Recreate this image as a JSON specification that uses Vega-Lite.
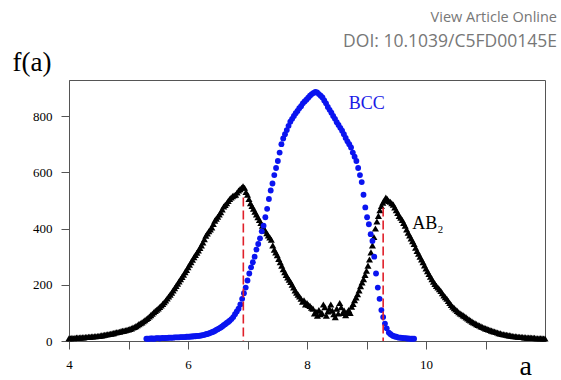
{
"$schema":"https://vega.github.io/schema/vega-lite/v6.json",
"width":476,"height":261,
"autosize":"none",
"padding":{"left":69,"top":80,"right":16,"bottom":39},
"background":"white",
"config":{"view":{"stroke":"#555","strokeWidth":1},"font":"Liberation Serif, serif"},
"title":{"text":"View Article Online","subtitle":"DOI: 10.1039/C5FD00145E","anchor":"end","frame":"group","dx":12,"offset":-3,"font":"Open Sans","fontSize":14.5,"fontWeight":"normal","color":"#777","subtitleFont":"Open Sans","subtitleFontSize":17.5,"subtitleColor":"#777","subtitlePadding":7},
"layer":[
{"data":{"values":[
{"a":4.000,"f":10},{"a":4.025,"f":10},{"a":4.050,"f":11},{"a":4.075,"f":10},{"a":4.100,"f":11},{"a":4.125,"f":12},{"a":4.150,"f":12},{"a":4.175,"f":12},{"a":4.200,"f":13},{"a":4.225,"f":13},{"a":4.250,"f":13},{"a":4.275,"f":14},{"a":4.300,"f":14},{"a":4.325,"f":15},{"a":4.350,"f":15},{"a":4.375,"f":16},{"a":4.400,"f":16},{"a":4.425,"f":17},{"a":4.450,"f":17},{"a":4.475,"f":18},{"a":4.500,"f":18},{"a":4.525,"f":19},{"a":4.550,"f":20},{"a":4.575,"f":21},{"a":4.600,"f":22},{"a":4.625,"f":23},{"a":4.650,"f":24},{"a":4.675,"f":25},{"a":4.700,"f":26},{"a":4.725,"f":27},{"a":4.750,"f":28},{"a":4.775,"f":30},{"a":4.800,"f":31},{"a":4.825,"f":32},{"a":4.850,"f":33},{"a":4.875,"f":35},{"a":4.900,"f":36},{"a":4.925,"f":37},{"a":4.950,"f":38},{"a":4.975,"f":40},{"a":5.000,"f":41},{"a":5.025,"f":43},{"a":5.050,"f":45},{"a":5.075,"f":48},{"a":5.100,"f":50},{"a":5.125,"f":53},{"a":5.150,"f":56},{"a":5.175,"f":60},{"a":5.200,"f":63},{"a":5.225,"f":66},{"a":5.250,"f":70},{"a":5.275,"f":74},{"a":5.300,"f":78},{"a":5.325,"f":82},{"a":5.350,"f":87},{"a":5.375,"f":92},{"a":5.400,"f":97},{"a":5.425,"f":102},{"a":5.450,"f":107},{"a":5.475,"f":111},{"a":5.500,"f":116},{"a":5.525,"f":121},{"a":5.550,"f":126},{"a":5.575,"f":132},{"a":5.600,"f":138},{"a":5.625,"f":144},{"a":5.650,"f":151},{"a":5.675,"f":158},{"a":5.700,"f":165},{"a":5.725,"f":172},{"a":5.750,"f":180},{"a":5.775,"f":188},{"a":5.800,"f":196},{"a":5.825,"f":204},{"a":5.850,"f":212},{"a":5.875,"f":220},{"a":5.900,"f":228},{"a":5.925,"f":236},{"a":5.950,"f":245},{"a":5.975,"f":253},{"a":6.000,"f":262},{"a":6.025,"f":271},{"a":6.050,"f":280},{"a":6.075,"f":289},{"a":6.100,"f":298},{"a":6.125,"f":306},{"a":6.150,"f":314},{"a":6.175,"f":322},{"a":6.200,"f":331},{"a":6.225,"f":340},{"a":6.250,"f":350},{"a":6.275,"f":362},{"a":6.300,"f":374},{"a":6.325,"f":382},{"a":6.350,"f":390},{"a":6.375,"f":397},{"a":6.400,"f":404},{"a":6.425,"f":416},{"a":6.450,"f":428},{"a":6.475,"f":435},{"a":6.500,"f":442},{"a":6.525,"f":450},{"a":6.550,"f":458},{"a":6.575,"f":468},{"a":6.600,"f":478},{"a":6.625,"f":484},{"a":6.650,"f":490},{"a":6.675,"f":498},{"a":6.700,"f":505},{"a":6.725,"f":510},{"a":6.750,"f":515},{"a":6.775,"f":518},{"a":6.800,"f":520},{"a":6.825,"f":528},{"a":6.850,"f":535},{"a":6.875,"f":540},{"a":6.900,"f":545},{"a":6.925,"f":550},{"a":6.950,"f":545},{"a":6.975,"f":530},
{"a":7.000,"f":520},{"a":7.025,"f":505},{"a":7.050,"f":490},{"a":7.075,"f":480},{"a":7.100,"f":470},{"a":7.125,"f":460},{"a":7.150,"f":450},{"a":7.175,"f":440},{"a":7.200,"f":430},{"a":7.225,"f":420},{"a":7.250,"f":410},{"a":7.275,"f":400},{"a":7.300,"f":392},{"a":7.325,"f":383},{"a":7.350,"f":375},{"a":7.375,"f":368},{"a":7.400,"f":360},{"a":7.425,"f":340},{"a":7.450,"f":325},{"a":7.475,"f":315},{"a":7.500,"f":305},{"a":7.525,"f":292},{"a":7.550,"f":280},{"a":7.575,"f":268},{"a":7.600,"f":255},{"a":7.625,"f":245},{"a":7.650,"f":235},{"a":7.675,"f":226},{"a":7.700,"f":218},{"a":7.725,"f":210},{"a":7.750,"f":200},{"a":7.775,"f":190},{"a":7.800,"f":180},{"a":7.825,"f":172},{"a":7.850,"f":165},{"a":7.875,"f":158},{"a":7.900,"f":150},{"a":7.925,"f":140},{"a":7.950,"f":145},{"a":7.975,"f":130},{"a":8.000,"f":135},{"a":8.025,"f":128},{"a":8.050,"f":125},{"a":8.075,"f":118},{"a":8.100,"f":115},{"a":8.125,"f":98},{"a":8.150,"f":105},{"a":8.175,"f":90},{"a":8.200,"f":110},{"a":8.225,"f":95},{"a":8.250,"f":100},{"a":8.275,"f":130},{"a":8.300,"f":120},{"a":8.325,"f":90},{"a":8.350,"f":105},{"a":8.375,"f":115},{"a":8.400,"f":130},{"a":8.425,"f":108},{"a":8.450,"f":95},{"a":8.475,"f":85},{"a":8.500,"f":115},{"a":8.525,"f":98},{"a":8.550,"f":135},{"a":8.575,"f":120},{"a":8.600,"f":100},{"a":8.625,"f":108},{"a":8.650,"f":92},{"a":8.675,"f":102},{"a":8.700,"f":110},{"a":8.725,"f":100},{"a":8.750,"f":122},{"a":8.775,"f":132},{"a":8.800,"f":145},{"a":8.825,"f":155},{"a":8.850,"f":166},{"a":8.875,"f":180},{"a":8.900,"f":195},{"a":8.925,"f":208},{"a":8.950,"f":220},{"a":8.975,"f":235},{"a":9.000,"f":250},{"a":9.025,"f":268},{"a":9.050,"f":290},{"a":9.075,"f":315},{"a":9.100,"f":340},{"a":9.125,"f":370},{"a":9.150,"f":400},{"a":9.175,"f":425},{"a":9.200,"f":445},{"a":9.225,"f":465},{"a":9.250,"f":480},{"a":9.275,"f":492},{"a":9.300,"f":500},{"a":9.325,"f":510},{"a":9.350,"f":505},{"a":9.375,"f":498},
{"a":9.400,"f":495},{"a":9.425,"f":490},{"a":9.450,"f":485},{"a":9.475,"f":475},{"a":9.500,"f":465},{"a":9.525,"f":455},{"a":9.550,"f":445},{"a":9.575,"f":438},{"a":9.600,"f":430},{"a":9.625,"f":420},{"a":9.650,"f":410},{"a":9.675,"f":397},{"a":9.700,"f":385},{"a":9.725,"f":375},{"a":9.750,"f":365},{"a":9.775,"f":355},{"a":9.800,"f":345},{"a":9.825,"f":332},{"a":9.850,"f":320},{"a":9.875,"f":310},{"a":9.900,"f":300},{"a":9.925,"f":290},{"a":9.950,"f":280},{"a":9.975,"f":269},{"a":10.000,"f":258},{"a":10.025,"f":248},{"a":10.050,"f":238},{"a":10.075,"f":229},{"a":10.100,"f":220},{"a":10.125,"f":211},{"a":10.150,"f":203},{"a":10.175,"f":196},{"a":10.200,"f":190},{"a":10.225,"f":184},{"a":10.250,"f":178},{"a":10.275,"f":170},{"a":10.300,"f":162},{"a":10.325,"f":156},{"a":10.350,"f":150},{"a":10.375,"f":142},{"a":10.400,"f":135},{"a":10.425,"f":128},{"a":10.450,"f":122},{"a":10.475,"f":117},{"a":10.500,"f":112},{"a":10.525,"f":107},{"a":10.550,"f":102},{"a":10.575,"f":98},{"a":10.600,"f":95},{"a":10.625,"f":91},{"a":10.650,"f":88},{"a":10.675,"f":84},{"a":10.700,"f":80},{"a":10.725,"f":76},{"a":10.750,"f":73},{"a":10.775,"f":69},{"a":10.800,"f":66},{"a":10.825,"f":63},{"a":10.850,"f":60},{"a":10.875,"f":57},{"a":10.900,"f":55},{"a":10.925,"f":52},{"a":10.950,"f":50},{"a":10.975,"f":47},{"a":11.000,"f":45},{"a":11.025,"f":43},{"a":11.050,"f":41},{"a":11.075,"f":39},{"a":11.100,"f":37},{"a":11.125,"f":35},{"a":11.150,"f":34},{"a":11.175,"f":32},{"a":11.200,"f":30},{"a":11.225,"f":28},{"a":11.250,"f":27},{"a":11.275,"f":25},{"a":11.300,"f":24},{"a":11.325,"f":23},{"a":11.350,"f":22},{"a":11.375,"f":21},{"a":11.400,"f":20},{"a":11.425,"f":19},{"a":11.450,"f":18},{"a":11.475,"f":17},{"a":11.500,"f":17},{"a":11.525,"f":16},{"a":11.550,"f":15},{"a":11.575,"f":15},{"a":11.600,"f":14},{"a":11.625,"f":14},{"a":11.650,"f":13},{"a":11.675,"f":13},{"a":11.700,"f":12},{"a":11.725,"f":12},{"a":11.750,"f":12},{"a":11.775,"f":11},{"a":11.800,"f":11},{"a":11.825,"f":11},{"a":11.850,"f":10},{"a":11.875,"f":10},{"a":11.900,"f":10},{"a":11.925,"f":10},{"a":11.950,"f":10},{"a":11.975,"f":9},{"a":12.000,"f":9}
]},
"mark":{"type":"point","shape":"triangle-up","filled":true,"size":50,"color":"black","opacity":1},
"encoding":{
"x":{"field":"a","type":"quantitative","scale":{"domain":[4,12],"nice":false,"zero":false},
"axis":{"values":[4,5,6,7,8,9,10,11],"format":"d","labelExpr":"datum.value % 2 == 0 ? datum.label : ''","grid":false,"tickSize":8,"labelPadding":9,"labelFont":"Liberation Serif, serif","labelFontSize":13,"labelColor":"black","domainColor":"#555","tickColor":"#555","title":"a","titleFont":"Liberation Serif, serif","titleFontSize":28,"titleFontWeight":"normal","titleColor":"black","titleAlign":"left","titleBaseline":"alphabetic","titleX":450,"titleY":33,"labelFlush":false}},
"y":{"field":"f","type":"quantitative","scale":{"domain":[0,928],"nice":false},
"axis":{"values":[0,100,200,300,400,500,600,700,800,900],"format":"d","labelExpr":"datum.value % 200 == 0 ? datum.label : ''","grid":false,"tickSize":8,"labelPadding":9,"labelFont":"Liberation Serif, serif","labelFontSize":13,"labelColor":"black","domainColor":"#555","tickColor":"#555","title":"f(a)","titleFont":"Liberation Serif, serif","titleFontSize":27,"titleFontWeight":"normal","titleColor":"black","titleAngle":0,"titleAlign":"left","titleBaseline":"alphabetic","titleX":-57,"titleY":-10}}
}},
{"data":{"values":[
{"a":5.300,"f":8},{"a":5.325,"f":8},{"a":5.350,"f":8},{"a":5.375,"f":9},{"a":5.400,"f":9},{"a":5.425,"f":8},{"a":5.450,"f":9},{"a":5.475,"f":10},{"a":5.500,"f":10},{"a":5.525,"f":9},{"a":5.550,"f":10},{"a":5.575,"f":11},{"a":5.600,"f":10},{"a":5.625,"f":11},{"a":5.650,"f":11},{"a":5.675,"f":12},{"a":5.700,"f":12},{"a":5.725,"f":12},{"a":5.750,"f":12},{"a":5.775,"f":13},{"a":5.800,"f":13},{"a":5.825,"f":13},{"a":5.850,"f":13},{"a":5.875,"f":14},{"a":5.900,"f":14},{"a":5.925,"f":14},{"a":5.950,"f":14},{"a":5.975,"f":15},{"a":6.000,"f":15},{"a":6.025,"f":15},{"a":6.050,"f":16},{"a":6.075,"f":16},{"a":6.100,"f":17},{"a":6.125,"f":17},{"a":6.150,"f":18},{"a":6.175,"f":18},{"a":6.200,"f":19},{"a":6.225,"f":20},{"a":6.250,"f":21},{"a":6.275,"f":22},{"a":6.300,"f":24},{"a":6.325,"f":25},{"a":6.350,"f":27},{"a":6.375,"f":29},{"a":6.400,"f":31},{"a":6.425,"f":33},{"a":6.450,"f":36},{"a":6.475,"f":39},{"a":6.500,"f":42},{"a":6.525,"f":45},{"a":6.550,"f":48},{"a":6.575,"f":52},{"a":6.600,"f":56},{"a":6.625,"f":60},{"a":6.650,"f":64},{"a":6.675,"f":68},{"a":6.700,"f":72},
{"a":6.73,"f":78},{"a":6.76,"f":85},{"a":6.79,"f":95},{"a":6.82,"f":105},{"a":6.85,"f":115},{"a":6.88,"f":130},{"a":6.91,"f":150},{"a":6.94,"f":170},{"a":6.97,"f":190},{"a":7.00,"f":215},{"a":7.03,"f":240},{"a":7.06,"f":262},{"a":7.09,"f":280},{"a":7.12,"f":300},{"a":7.15,"f":325},{"a":7.18,"f":345},{"a":7.21,"f":365},{"a":7.24,"f":390},{"a":7.27,"f":410},{"a":7.30,"f":440},{"a":7.33,"f":470},{"a":7.36,"f":505},{"a":7.39,"f":535},{"a":7.42,"f":560},{"a":7.45,"f":590},{"a":7.48,"f":615},{"a":7.51,"f":640},{"a":7.54,"f":670},{"a":7.57,"f":700},{"a":7.60,"f":720},{"a":7.63,"f":735},{"a":7.66,"f":750},{"a":7.69,"f":765},{"a":7.72,"f":780},{"a":7.75,"f":790},{"a":7.78,"f":800},{"a":7.81,"f":810},{"a":7.84,"f":818},{"a":7.87,"f":828},{"a":7.90,"f":835},{"a":7.93,"f":845},{"a":7.96,"f":852},{"a":7.99,"f":858},{"a":8.02,"f":865},{"a":8.05,"f":872},{"a":8.08,"f":878},{"a":8.11,"f":882},{"a":8.14,"f":886},{"a":8.17,"f":884},{"a":8.20,"f":878},{"a":8.23,"f":872},{"a":8.26,"f":866},{"a":8.29,"f":855},{"a":8.32,"f":845},{"a":8.35,"f":832},{"a":8.38,"f":822},{"a":8.41,"f":812},{"a":8.44,"f":800},{"a":8.47,"f":790},{"a":8.50,"f":778},{"a":8.53,"f":768},{"a":8.56,"f":758},{"a":8.59,"f":748},{"a":8.62,"f":735},{"a":8.65,"f":722},{"a":8.68,"f":710},{"a":8.71,"f":700},{"a":8.74,"f":688},{"a":8.77,"f":670},{"a":8.80,"f":655},{"a":8.83,"f":640},{"a":8.86,"f":615},{"a":8.89,"f":590},{"a":8.92,"f":565},{"a":8.95,"f":520},{"a":8.98,"f":475},{"a":9.01,"f":440},{"a":9.04,"f":415},{"a":9.07,"f":380},{"a":9.10,"f":356},{"a":9.13,"f":300},{"a":9.16,"f":240},{"a":9.19,"f":190},{"a":9.22,"f":150},{"a":9.25,"f":110},{"a":9.28,"f":85},{"a":9.31,"f":62},{"a":9.34,"f":45},
{"a":9.375,"f":30},{"a":9.400,"f":25},{"a":9.425,"f":21},{"a":9.450,"f":18},{"a":9.475,"f":16},{"a":9.500,"f":15},{"a":9.525,"f":13},{"a":9.550,"f":12},{"a":9.575,"f":12},{"a":9.600,"f":11},{"a":9.625,"f":10},{"a":9.650,"f":10},{"a":9.675,"f":9},{"a":9.700,"f":9},{"a":9.725,"f":8},{"a":9.750,"f":8},{"a":9.775,"f":8},{"a":9.800,"f":8}
]},
"mark":{"type":"point","shape":"circle","filled":true,"size":34,"color":"#0a14f0","opacity":1},
"encoding":{"x":{"field":"a","type":"quantitative"},"y":{"field":"f","type":"quantitative"}}},
{"data":{"values":[{"a":6.93,"f":510},{"a":9.28,"f":475}]},
"mark":{"type":"rule","color":"#e0202a","strokeWidth":1.6,"strokeDash":[9,4]},
"encoding":{"x":{"field":"a","type":"quantitative"},"y":{"field":"f","type":"quantitative"},"y2":{"datum":0}}},
{"data":{"values":[{"a":8.70,"f":826,"t":"BCC"}]},
"mark":{"type":"text","align":"left","baseline":"alphabetic","font":"Liberation Serif, serif","fontSize":18,"color":"#1a1ae6"},
"encoding":{"x":{"field":"a","type":"quantitative"},"y":{"field":"f","type":"quantitative"},"text":{"field":"t"}}},
{"data":{"values":[{"a":9.77,"f":400,"t":"AB₂"}]},
"mark":{"type":"text","align":"left","baseline":"alphabetic","font":"Liberation Serif, serif","fontSize":18,"color":"black"},
"encoding":{"x":{"field":"a","type":"quantitative"},"y":{"field":"f","type":"quantitative"},"text":{"field":"t"}}}
]
}
